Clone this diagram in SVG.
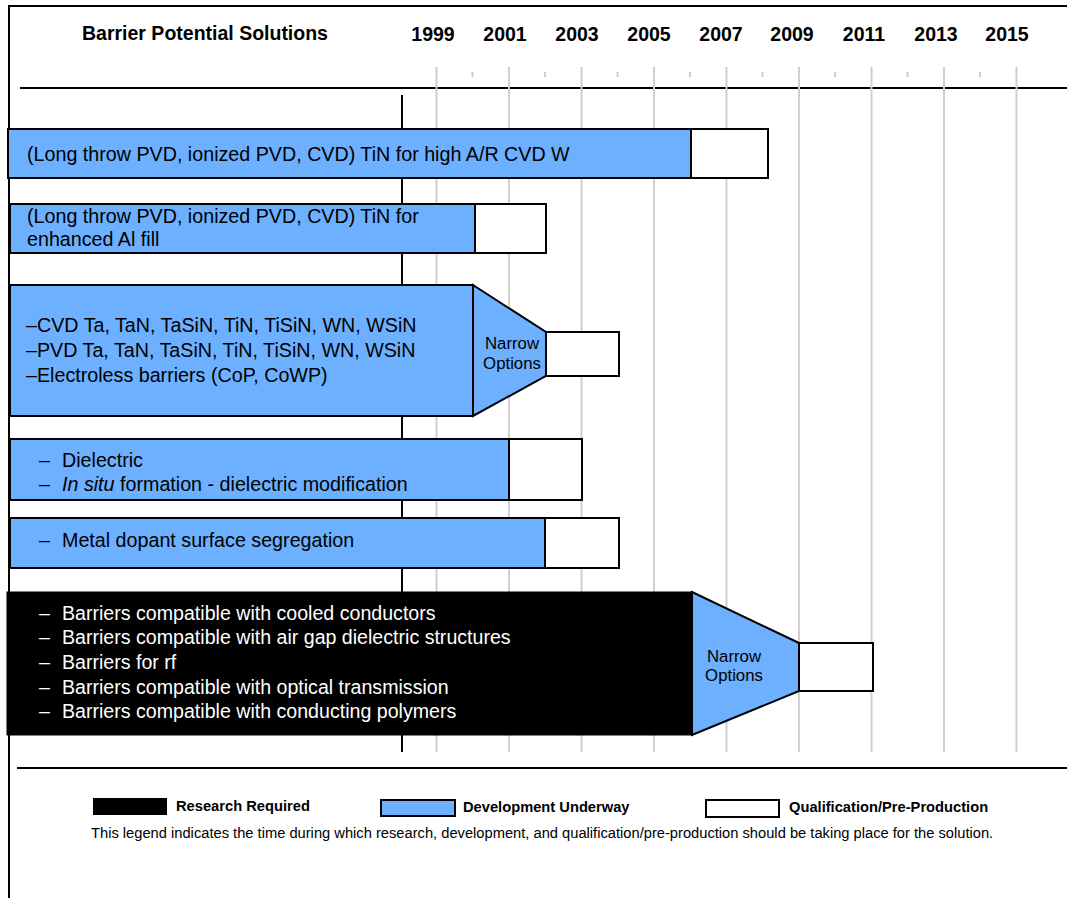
<svg xmlns="http://www.w3.org/2000/svg" width="1067" height="898" viewBox="0 0 1067 898">
<style>
text{font-family:"Liberation Sans",Arial,sans-serif;fill:#000}
.yr{font-size:19.5px;font-weight:bold;text-anchor:middle}
.t{font-size:19.7px}
.w{font-size:19.6px;fill:#fff}
.n{font-size:16.8px;text-anchor:middle}
.lg{font-size:14.7px;font-weight:bold}
.dev{fill:#6cb0ff;stroke:#000;stroke-width:2}
.qual{fill:#fff;stroke:#000;stroke-width:2}
.res{fill:#000;stroke:#000;stroke-width:1}
.grid{stroke:#cfcfcf;stroke-width:2}
</style>
<rect width="1067" height="898" fill="#fff"/>
<g id="frame">
<line x1="8" y1="6" x2="1067" y2="6" stroke="#000" stroke-width="2"/>
<line x1="9" y1="5" x2="9" y2="898" stroke="#000" stroke-width="2"/>
<line x1="20" y1="88" x2="1067" y2="88" stroke="#000" stroke-width="2"/>
<line x1="17" y1="768" x2="1067" y2="768" stroke="#000" stroke-width="2"/>
</g>
<g id="header">
<text x="82" y="40" font-size="19.5" font-weight="bold">Barrier Potential Solutions</text>
<text class="yr" x="433" y="41">1999</text>
<text class="yr" x="505" y="41">2001</text>
<text class="yr" x="577" y="41">2003</text>
<text class="yr" x="649" y="41">2005</text>
<text class="yr" x="721" y="41">2007</text>
<text class="yr" x="792" y="41">2009</text>
<text class="yr" x="864" y="41">2011</text>
<text class="yr" x="936" y="41">2013</text>
<text class="yr" x="1007" y="41">2015</text>
</g>
<g id="grid">
<line class="grid" x1="436.5" y1="67" x2="436.5" y2="752"/>
<line class="grid" x1="509" y1="67" x2="509" y2="752"/>
<line class="grid" x1="581.5" y1="67" x2="581.5" y2="752"/>
<line class="grid" x1="654" y1="67" x2="654" y2="752"/>
<line class="grid" x1="726.5" y1="67" x2="726.5" y2="752"/>
<line class="grid" x1="799" y1="67" x2="799" y2="752"/>
<line class="grid" x1="871.5" y1="67" x2="871.5" y2="752"/>
<line class="grid" x1="944" y1="67" x2="944" y2="752"/>
<line class="grid" x1="1016.5" y1="67" x2="1016.5" y2="752"/>
<g stroke="#cfcfcf" stroke-width="2">
<line x1="472.5" y1="72" x2="472.5" y2="77"/>
<line x1="545" y1="72" x2="545" y2="77"/>
<line x1="617.5" y1="72" x2="617.5" y2="77"/>
<line x1="690" y1="72" x2="690" y2="77"/>
<line x1="762.5" y1="72" x2="762.5" y2="77"/>
<line x1="835" y1="72" x2="835" y2="77"/>
<line x1="907.5" y1="72" x2="907.5" y2="77"/>
<line x1="980" y1="72" x2="980" y2="77"/>
</g>
<line x1="402" y1="95" x2="402" y2="752" stroke="#000" stroke-width="2"/>
</g>
<g id="row1">
<rect class="dev" x="8" y="129" width="683" height="49"/>
<rect class="qual" x="691" y="129" width="77" height="49"/>
<text class="t" x="27" y="161">(Long throw PVD, ionized PVD, CVD) TiN for high A/R CVD W</text>
</g>
<g id="row2">
<rect class="dev" x="10" y="204" width="465" height="49"/>
<rect class="qual" x="475" y="204" width="71" height="49"/>
<text class="t" x="27" y="223">(Long throw PVD, ionized PVD, CVD) TiN for</text>
<text class="t" x="27" y="246">enhanced Al fill</text>
</g>
<g id="row3">
<rect class="dev" x="10" y="285" width="463" height="131"/>
<polygon class="dev" points="473,285 546,332 546,376 473,416"/>
<rect class="qual" x="546" y="332" width="73" height="44"/>
<text class="t" x="26" y="332" font-size="20.3">–CVD Ta, TaN, TaSiN, TiN, TiSiN, WN, WSiN</text>
<text class="t" x="26" y="357" font-size="20.3">–PVD Ta, TaN, TaSiN, TiN, TiSiN, WN, WSiN</text>
<text class="t" x="26" y="382" font-size="20.3">–Electroless barriers (CoP, CoWP)</text>
<text class="n" x="512" y="349">Narrow</text>
<text class="n" x="512" y="369">Options</text>
</g>
<g id="row4">
<rect class="dev" x="10" y="439" width="499" height="61"/>
<rect class="qual" x="509" y="439" width="73" height="61"/>
<text class="t" x="39" y="467">–</text>
<text class="t" x="62" y="467">Dielectric</text>
<text class="t" x="39" y="491">–</text>
<text class="t" x="62" y="491"><tspan font-style="italic">In situ</tspan> formation - dielectric modification</text>
</g>
<g id="row5">
<rect class="dev" x="10" y="518" width="535" height="50"/>
<rect class="qual" x="545" y="518" width="74" height="50"/>
<text class="t" x="39" y="547">–</text>
<text class="t" x="62" y="547">Metal dopant surface segregation</text>
</g>
<g id="row6">
<rect class="res" x="7" y="592" width="685" height="143"/>
<polygon class="dev" points="692,592 799,643 799,691 692,735"/>
<rect class="qual" x="799" y="643" width="74" height="48"/>
<g class="w">
<text class="w" x="39" y="620">–</text><text class="w" x="62" y="620">Barriers compatible with cooled conductors</text>
<text class="w" x="39" y="644">–</text><text class="w" x="62" y="644">Barriers compatible with air gap dielectric structures</text>
<text class="w" x="39" y="669">–</text><text class="w" x="62" y="669">Barriers for rf</text>
<text class="w" x="39" y="694">–</text><text class="w" x="62" y="694">Barriers compatible with optical transmission</text>
<text class="w" x="39" y="718">–</text><text class="w" x="62" y="718">Barriers compatible with conducting polymers</text>
</g>
<text class="n" x="734" y="662">Narrow</text>
<text class="n" x="734" y="681">Options</text>
</g>
<g id="legend">
<rect x="93" y="798" width="74" height="17" fill="#000"/>
<text class="lg" x="176" y="811">Research Required</text>
<rect class="dev" x="381" y="800" width="74" height="16"/>
<text class="lg" x="463" y="812">Development Underway</text>
<rect class="qual" x="706" y="800" width="73" height="17"/>
<text class="lg" x="789" y="812">Qualification/Pre-Production</text>
<text x="91" y="838" font-size="14.7">This legend indicates the time during which research, development, and qualification/pre-production should be taking place for the solution.</text>
</g>
</svg>
